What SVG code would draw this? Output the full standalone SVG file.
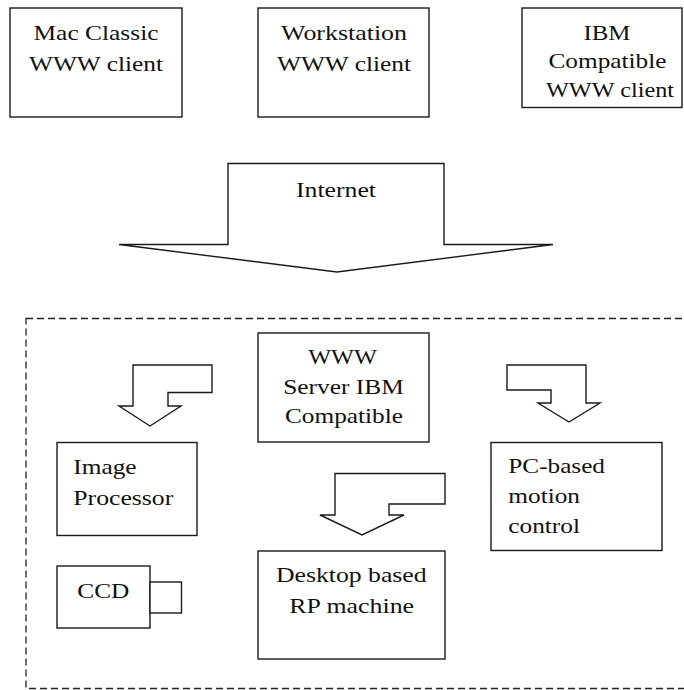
<svg xmlns="http://www.w3.org/2000/svg" width="684" height="690" viewBox="0 0 684 690">
<style>
.box{fill:#fff;stroke:#1a1a1a;stroke-width:1.4}
.arr{fill:#fff;stroke:#1a1a1a;stroke-width:1.4;stroke-linejoin:miter}
.dash{fill:none;stroke:#222;stroke-width:1.3;stroke-dasharray:7 4}
text{font-family:"Liberation Serif","Times New Roman",serif;font-size:21.5px;fill:#111}
.c{text-anchor:middle}
</style>
<rect width="684" height="690" fill="#fff"/>
<rect id="server-site" class="dash" x="26" y="318.5" width="700" height="370"/>
<g id="mac-client">
<rect class="box" x="10" y="8" width="172" height="109"/>
<text class="c" x="96" y="39.5" textLength="125" lengthAdjust="spacingAndGlyphs">Mac Classic</text>
<text class="c" x="96" y="71" textLength="134" lengthAdjust="spacingAndGlyphs">WWW client</text>
</g>
<g id="workstation-client">
<rect class="box" x="258" y="8" width="171" height="109"/>
<text class="c" x="344" y="40" textLength="126" lengthAdjust="spacingAndGlyphs">Workstation</text>
<text class="c" x="344" y="71" textLength="134" lengthAdjust="spacingAndGlyphs">WWW client</text>
</g>
<g id="ibm-client">
<rect class="box" x="522" y="8" width="160" height="99.5"/>
<text class="c" x="607" y="39.5" textLength="47" lengthAdjust="spacingAndGlyphs">IBM</text>
<text class="c" x="607.5" y="68.3" textLength="118" lengthAdjust="spacingAndGlyphs">Compatible</text>
<text class="c" x="610" y="96.7" textLength="128" lengthAdjust="spacingAndGlyphs">WWW client</text>
</g>
<g id="www-server">
<rect class="box" x="258" y="333" width="171" height="109"/>
<text class="c" x="342.5" y="364" textLength="68.7" lengthAdjust="spacingAndGlyphs">WWW</text>
<text class="c" x="343.5" y="394" textLength="120.7" lengthAdjust="spacingAndGlyphs">Server IBM</text>
<text class="c" x="344" y="423" textLength="118" lengthAdjust="spacingAndGlyphs">Compatible</text>
</g>
<g id="image-processor">
<rect class="box" x="57" y="442.5" width="140" height="93"/>
<text x="73.3" y="474" textLength="63.3" lengthAdjust="spacingAndGlyphs">Image</text>
<text x="73.3" y="505" textLength="100" lengthAdjust="spacingAndGlyphs">Processor</text>
</g>
<g id="ccd">
<rect class="box" x="57" y="566" width="93" height="62"/>
<rect class="box" x="150" y="582" width="31.5" height="31"/>
<text x="77.3" y="598.3" textLength="52" lengthAdjust="spacingAndGlyphs">CCD</text>
</g>
<g id="rp-machine">
<rect class="box" x="258" y="551" width="187" height="108"/>
<text class="c" x="351.3" y="582.3" textLength="150.7" lengthAdjust="spacingAndGlyphs">Desktop based</text>
<text class="c" x="351.7" y="612.7" textLength="124.7" lengthAdjust="spacingAndGlyphs">RP machine</text>
</g>
<g id="motion-control">
<rect class="box" x="491" y="442.5" width="171" height="108"/>
<text x="508.3" y="473.3" textLength="96.7" lengthAdjust="spacingAndGlyphs">PC-based</text>
<text x="508.3" y="503.3" textLength="71.7" lengthAdjust="spacingAndGlyphs">motion</text>
<text x="508.3" y="533.3" textLength="71.7" lengthAdjust="spacingAndGlyphs">control</text>
</g>
<g id="connectors">
<g id="internet">
<polygon class="arr" points="228,163.5 444,163.5 444,244.5 553,244.5 337,272 119,244.5 228,244.5"/>
<text class="c" x="336" y="197" textLength="80" lengthAdjust="spacingAndGlyphs">Internet</text>
</g>
<polygon class="arr" points="133,365 212,365 212,392.5 168,392.5 168,406 181,406 150,426 119,406 133,406"/>
<polygon class="arr" points="507,365 586,365 586,403 600,403 569,422 538,403 551,403 551,390 507,390"/>
<polygon class="arr" points="335,473.5 445,473.5 445,504 389,504 389,515 404,515 362,535 320,515 335,515"/>
</g>
</svg>
